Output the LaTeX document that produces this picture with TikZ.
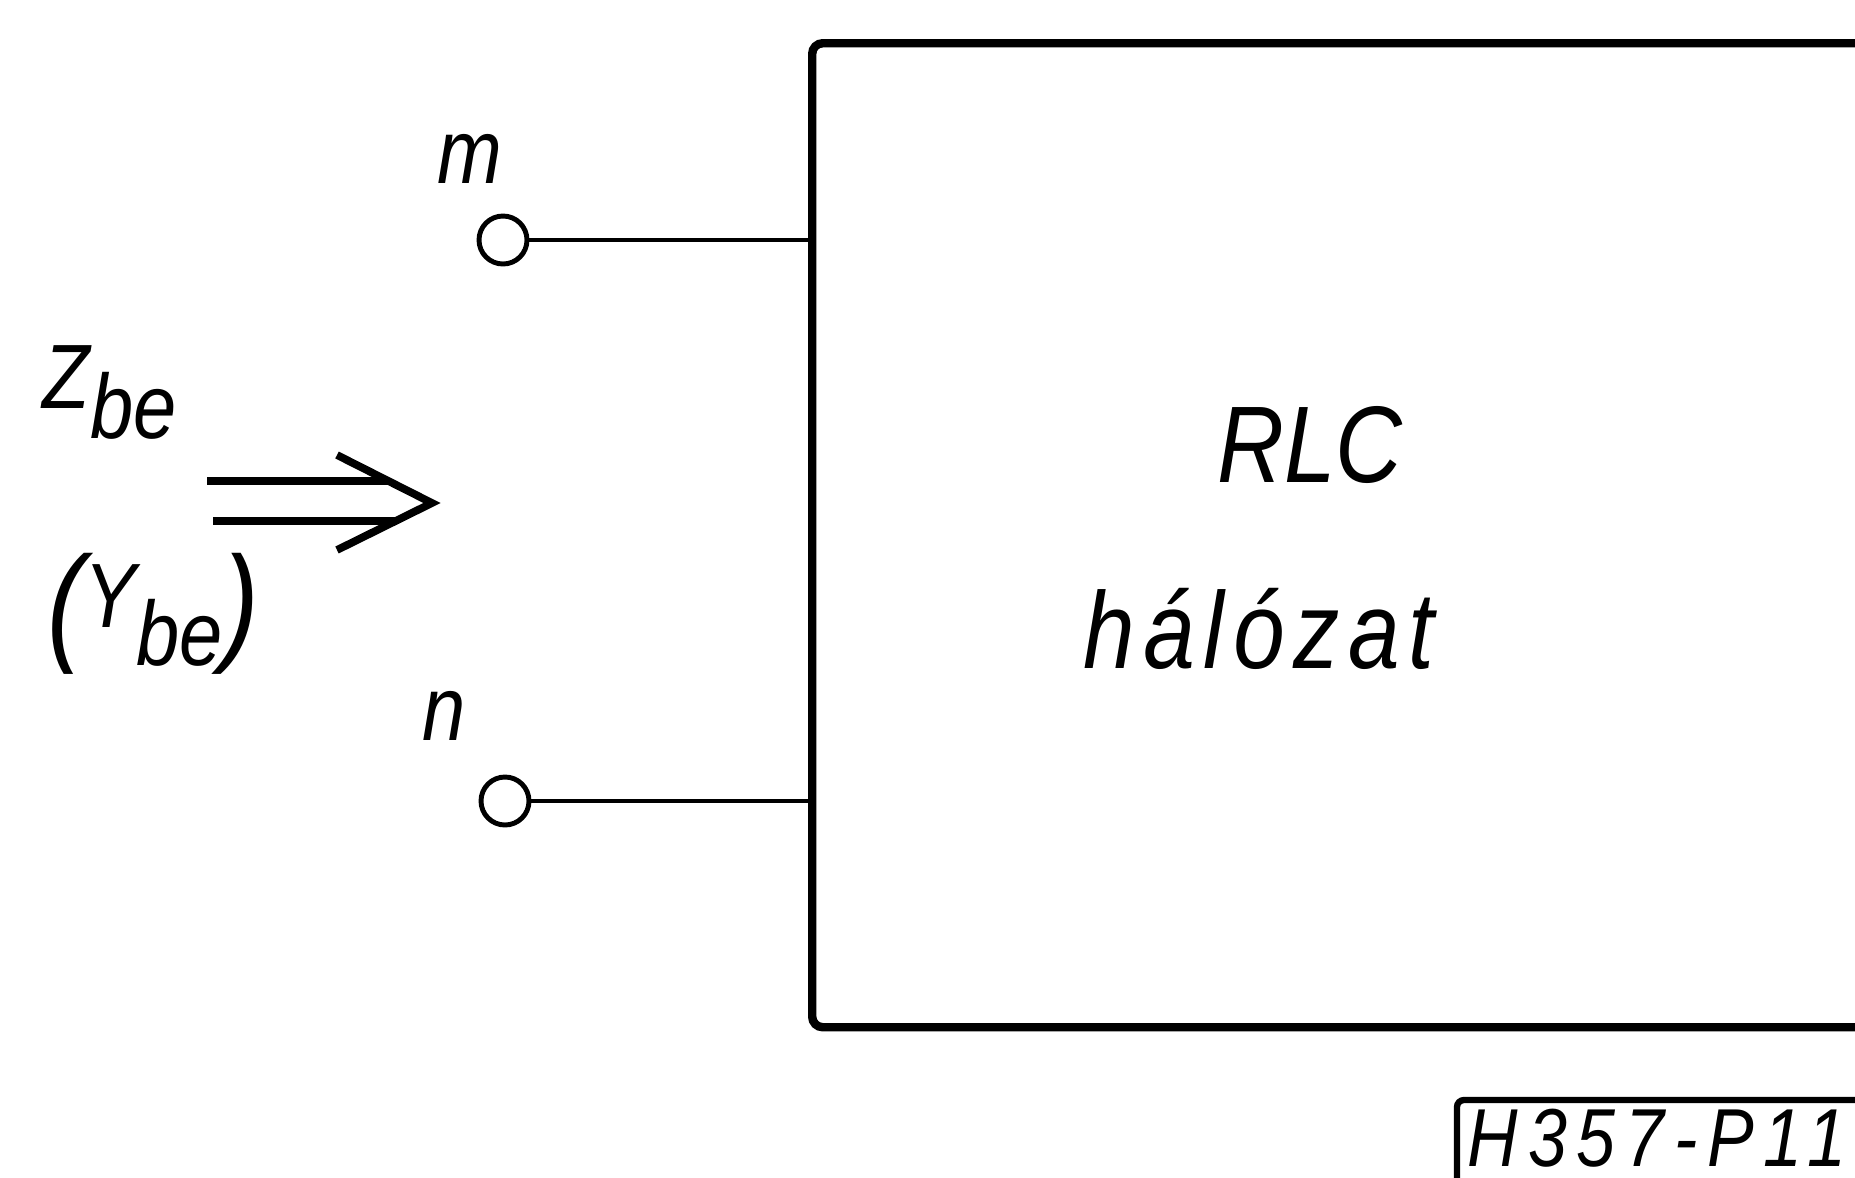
\documentclass[tikz,border=0pt]{standalone}
\usepackage{fontspec}
\newfontfamily\lettering{Liberation Sans}[FakeStretch=0.85]

\begin{document}
\begin{tikzpicture}[
    terminal/.style={draw, circle, line width=1.4pt, minimum size=0.48cm, inner sep=0pt},
    wire/.style={line width=1.2pt},
    txt/.style={font=\lettering\itshape\fontsize{26}{30}\selectfont, inner sep=0pt},
    bigtxt/.style={font=\lettering\itshape\fontsize{31}{36}\selectfont, inner sep=0pt}
]
    \useasboundingbox (0,0) rectangle (18.55,-11.77);
    \clip (0,0) rectangle (18.55,-11.77);
    % network box, its right side runs off the page
    \node[draw, line width=2.4pt, rounded corners=3pt, minimum width=12cm, minimum height=9.84cm,
        anchor=north west, inner sep=0pt] (net) at (8.08,-0.39) {};
    \node[bigtxt, anchor=base] (rlc) at (13.10,-4.82) {RLC};
    \node[bigtxt, anchor=base] (halo) at (12.59,-6.68) {\addfontfeature{LetterSpace=8}hálózat};
    % terminals
    \node[terminal] (m) at (5.03,-2.40) {};
    \node[terminal] (n) at (5.05,-8.01) {};
    \draw[wire] (m) -- (m -| net.west);
    \draw[wire] (n) -- (n -| net.west);
    \node[txt, anchor=base] (mlab) at (4.70,-1.83) {m};
    \node[txt, anchor=base] (nlab) at (4.44,-7.40) {n};
    % input impedance
    \node[txt, anchor=base west] (zbe) at (0.42,-4.08) {Z\raisebox{-0.33em}{be}};
    \node[txt, anchor=base west] (ybe) at (0.47,-6.27)
        {\raisebox{-0.2cm}{\fontsize{37}{37}\selectfont(}Y\raisebox{-0.42em}{be}\raisebox{-0.2cm}{\fontsize{37}{37}\selectfont)}};
    \coordinate (tip) at (4.32,-5.03);
    \draw[line width=2.2pt] (tip) ++(-2.25,0.22) -- ++(1.82,0);
    \draw[line width=2.2pt] (tip) ++(-2.19,-0.18) -- ++(1.83,0);
    \draw[line width=2.2pt, line join=miter] (tip) ++(-0.95,0.48) -- (tip) -- ++(-0.95,-0.47);
    % drawing number
    \draw[line width=1.8pt, rounded corners=2pt] (14.57,-11.9) -- (14.57,-11.0) -- (18.7,-11.0);
    \node[font=\lettering\itshape\fontsize{23.4}{28}\selectfont, inner sep=0pt, anchor=base west] (num)
        at (14.67,-11.66) {\addfontfeature{LetterSpace=12}H357-P11};
\end{tikzpicture}
\end{document}
